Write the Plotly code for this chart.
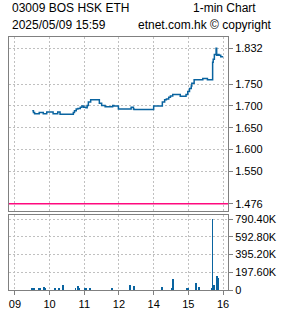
import plotly.graph_objects as go

# ---- data ----
price_times = ["09:30","09:32","09:34","09:42","09:49","09:55","10:06","10:14","10:18",
               "10:41","10:43","10:46","10:49","10:53","10:56","10:59","11:03","11:05",
               "11:07","11:11","11:26","11:27","11:30","11:36","11:49","11:51","11:59",
               "13:21","13:25","13:26","14:00","14:15","14:19","14:22","14:26","14:29",
               "14:33","14:46","14:56","14:59","15:02","15:05","15:06","15:10","15:25",
               "15:33","15:42","15:43","15:45","15:48","15:49","15:51","15:53","15:56","15:59"]
price_vals = [1.689,1.685,1.682,1.685,1.682,1.686,1.682,1.686,1.681,
              1.685,1.689,1.693,1.694,1.697,1.700,1.697,1.696,1.701,
              1.709,1.714,1.706,1.706,1.701,1.698,1.701,1.700,1.693,
              1.697,1.693,1.692,1.700,1.709,1.714,1.716,1.720,1.723,
              1.726,1.722,1.726,1.733,1.740,1.746,1.752,1.760,1.763,
              1.760,1.800,1.807,1.818,1.832,1.816,1.818,1.816,1.813,1.811]

vol_times = ["09:30","09:31","09:33","09:34","09:42","09:43","09:50","09:53","10:09",
             "10:16","10:23","10:45","10:49","10:51","11:01","11:03","11:10","11:48",
             "13:19","13:26","14:15","14:31","14:33","14:57","14:59","15:13","15:18",
             "15:40","15:42","15:44","15:49","15:50","15:52"]
vol_vals = [18e3,14e3,22e3,11e3,14e3,11e3,29e3,11e3,14e3,
            22e3,47e3,18e3,36e3,14e3,18e3,18e3,14e3,14e3,
            47e3,36e3,25e3,18e3,123e3,14e3,11e3,72e3,25e3,
            18e3,790.4e3,54e3,14e3,152e3,130e3]

prev_close = 1.476
price_ticks = [1.832, 1.750, 1.700, 1.650, 1.600, 1.550, 1.476]
vol_ticks = [0, 197.6e3, 395.2e3, 592.8e3, 790.4e3]
vol_ticktext = ["0", "197.60K", "395.20K", "592.80K", "790.40K"]
hour_ticks = ["09:00","10:00","11:00","12:00","14:00","15:00","16:00"]
hour_labels = ["09","10","11","12","14","15","16"]

title_left1 = "03009 BOS HSK ETH"
title_right1 = "1-min Chart"
title_left2 = "2025/05/09 15:59"
title_right2 = "etnet.com.hk © copyright"


def tpos(s):
    h, m = map(int, s.split(":"))
    mins = h * 60 + m - 540
    return mins if mins <= 180 else mins - 60


px = [tpos(t) for t in price_times]
vx = [tpos(t) for t in vol_times]
hx = [tpos(t) for t in hour_ticks]

W, H = 285, 318
L, R, T, B = 8, 229, 37, 298
BLUE = "#0a64a0"
GRID = "#c0c0c0"
FRAME = "#808080"
FONT = dict(family="Liberation Sans", size=11, color="black")

fig = go.Figure()
fig.add_trace(go.Scatter(x=px, y=price_vals, mode="lines", line=dict(color=BLUE, width=1.5, shape="hv"),
                         xaxis="x", yaxis="y", hoverinfo="skip"))
fig.add_trace(go.Bar(x=vx, y=vol_vals, width=1.2, marker=dict(color=BLUE, line=dict(width=0)),
                     xaxis="x2", yaxis="y2", hoverinfo="skip"))

fig.add_shape(type="line", xref="x domain", yref="y", x0=0, x1=1, y0=prev_close, y1=prev_close,
              line=dict(color="#ff0a7f", width=1.5), layer="above")

xrange = [-10.3, 368.6]
common_x = dict(range=xrange, showgrid=True, gridcolor=GRID, griddash="2px,2px", gridwidth=1,
                showline=True, linecolor=FRAME, linewidth=1, mirror=True, zeroline=False,
                tickvals=hx, ticktext=hour_labels, tickfont=FONT)

ptop_dom = (B - 216) / (B - T)
vtop_dom = (B - 221) / (B - T)

fig.update_layout(
    width=W, height=H,
    margin=dict(l=L, r=W - R, t=T, b=H - B, pad=0),
    paper_bgcolor="white", plot_bgcolor="white",
    showlegend=False, bargap=0,
    font=FONT,
    xaxis=dict(**common_x, domain=[0, 1], anchor="y", showticklabels=False, ticks=""),
    xaxis2=dict(**common_x, domain=[0, 1], anchor="y2", matches="x", ticks="outside",
                ticklen=4, tickcolor=FRAME, showticklabels=True),
    yaxis=dict(domain=[ptop_dom, 1], range=[1.4604, 1.858], side="right", anchor="x",
               tickvals=price_ticks, ticktext=[f"{v:.3f}" for v in price_ticks],
               showgrid=True, gridcolor=GRID, griddash="2px,2px", gridwidth=1,
               showline=True, linecolor=FRAME, linewidth=1, mirror=True, zeroline=False,
               ticks="outside", ticklen=4, tickcolor=FRAME, tickfont=FONT),
    yaxis2=dict(domain=[0, vtop_dom], range=[0, 833.7e3], side="right", anchor="x2",
                tickvals=vol_ticks, ticktext=vol_ticktext,
                showgrid=True, gridcolor=GRID, griddash="2px,2px", gridwidth=1,
                showline=True, linecolor=FRAME, linewidth=1, mirror=True, zeroline=False,
                ticks="outside", ticklen=4, tickcolor=FRAME, tickfont=FONT),
)


def pxx(x):
    return (x - L) / (R - L)


def pyy(y):
    return (B - y) / (B - T)


TFONT = dict(family="Liberation Sans", size=12, color="black")
for txt, x, y in [(title_left1, 10, 7), (title_right1, 193, 7), (title_left2, 10, 25), (title_right2, 137, 25)]:
    fig.add_annotation(text=txt, xref="paper", yref="paper", x=pxx(x), y=pyy(y),
                       xanchor="left", yanchor="middle", showarrow=False, font=TFONT, borderpad=0)

fig.write_html("out.html")
